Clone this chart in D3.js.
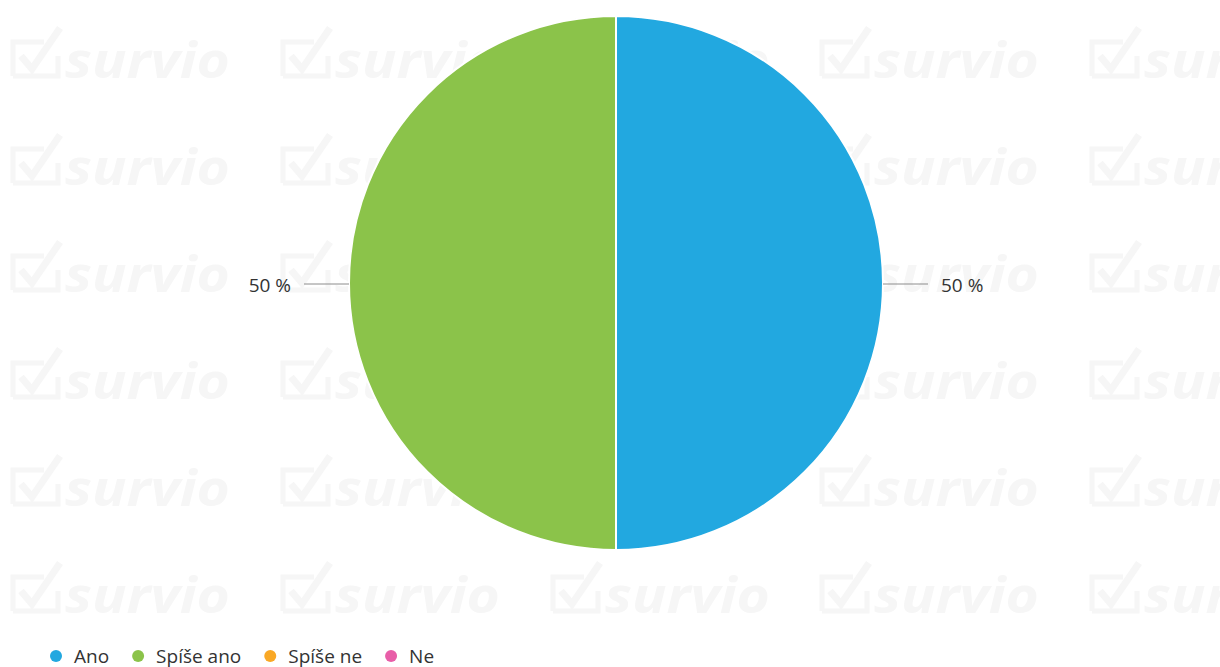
<!DOCTYPE html>
<html><head><meta charset="utf-8">
<script src="https://cdn.jsdelivr.net/npm/d3@7"></script>
<style>html,body{margin:0;padding:0;background:#fff;}svg{display:block;}</style>
</head><body>
<svg id="chart" width="1220" height="667"></svg>
<script>
const categories = ["Ano", "Spíše ano", "Spíše ne", "Ne"];
const values = [50, 50, 0, 0];
const colors = ["#22a8e0", "#8bc34a", "#f9a825", "#e85ea8"];
const labelFormat = v => v + " %";

const W = 1220, H = 667;
const svg = d3.select("#chart");

// watermark
const wm = svg.append("g").attr("class", "watermark");
const wmColor = "#f6f6f6";
const colXs = [10, 280, 550, 819, 1089];
const rowYs = [78, 185, 292, 399, 506, 613];
rowYs.forEach(y => colXs.forEach(x => {
  const g = wm.append("g").attr("transform", `translate(${x},${y})`);
  g.append("path")
    .attr("d", "M3,-2 L3,-36 L34,-36 M3,-2 L48,-2 L48,-22")
    .attr("fill", "none").attr("stroke", wmColor).attr("stroke-width", 5);
  g.append("path")
    .attr("d", "M11,-22 L22,-9 L50,-50")
    .attr("fill", "none").attr("stroke", wmColor).attr("stroke-width", 7);
  g.append("text").attr("x", 55).attr("y", 0)
    .attr("font-family", "Open Sans, sans-serif").attr("font-weight", 700)
    .attr("font-style", "italic").attr("font-size", 50)
    .attr("textLength", 165).attr("lengthAdjust", "spacingAndGlyphs")
    .attr("fill", wmColor).text("survio");
}));

// pie
const cx = 616, cy = 283, R = 267;
const data = categories.map((c, i) => ({cat: c, value: values[i], color: colors[i]}));
const pie = d3.pie().sort(null).value(d => d.value);
const arcs = pie(data);
const arc = d3.arc().innerRadius(0).outerRadius(R);
const g = svg.append("g").attr("transform", `translate(${cx},${cy})`);
g.selectAll("path.slice").data(arcs.filter(a => a.value > 0)).join("path")
  .attr("class", "slice")
  .attr("d", arc)
  .attr("fill", d => d.data.color)
  .attr("stroke", "#fff").attr("stroke-width", 2);

// labels
arcs.filter(a => a.value > 0).forEach(a => {
  const mid = (a.startAngle + a.endAngle) / 2;
  const sx = Math.sin(mid), sy = -Math.cos(mid);
  const side = sx >= 0 ? 1 : -1;
  const y0 = sy * R + 1;
  const x0 = sx * R;
  const x1 = x0 + side * 45;
  g.append("line").attr("x1", x0).attr("y1", y0).attr("x2", x1).attr("y2", y0)
    .attr("stroke", "#8c8c8c").attr("stroke-width", 1);
  g.append("text")
    .attr("x", x1 + side * 13).attr("y", y0 + 8)
    .attr("text-anchor", side > 0 ? "start" : "end")
    .attr("font-family", "Open Sans, sans-serif").attr("font-size", 19)
    .attr("fill", "#333").text(labelFormat(a.value));
});

// legend
const legend = svg.append("g").attr("transform", "translate(0,656)");
let lx = 56;
categories.forEach((c, i) => {
  const lg = legend.append("g").attr("transform", `translate(${lx},0)`);
  lg.append("circle").attr("r", 6).attr("fill", colors[i]);
  const t = lg.append("text").attr("x", 18).attr("y", 7)
    .attr("font-family", "Open Sans, sans-serif").attr("font-size", 19)
    .attr("fill", "#333").text(c);
  lx += 18 + t.node().getComputedTextLength() + 29;
});
</script>
</body></html>
